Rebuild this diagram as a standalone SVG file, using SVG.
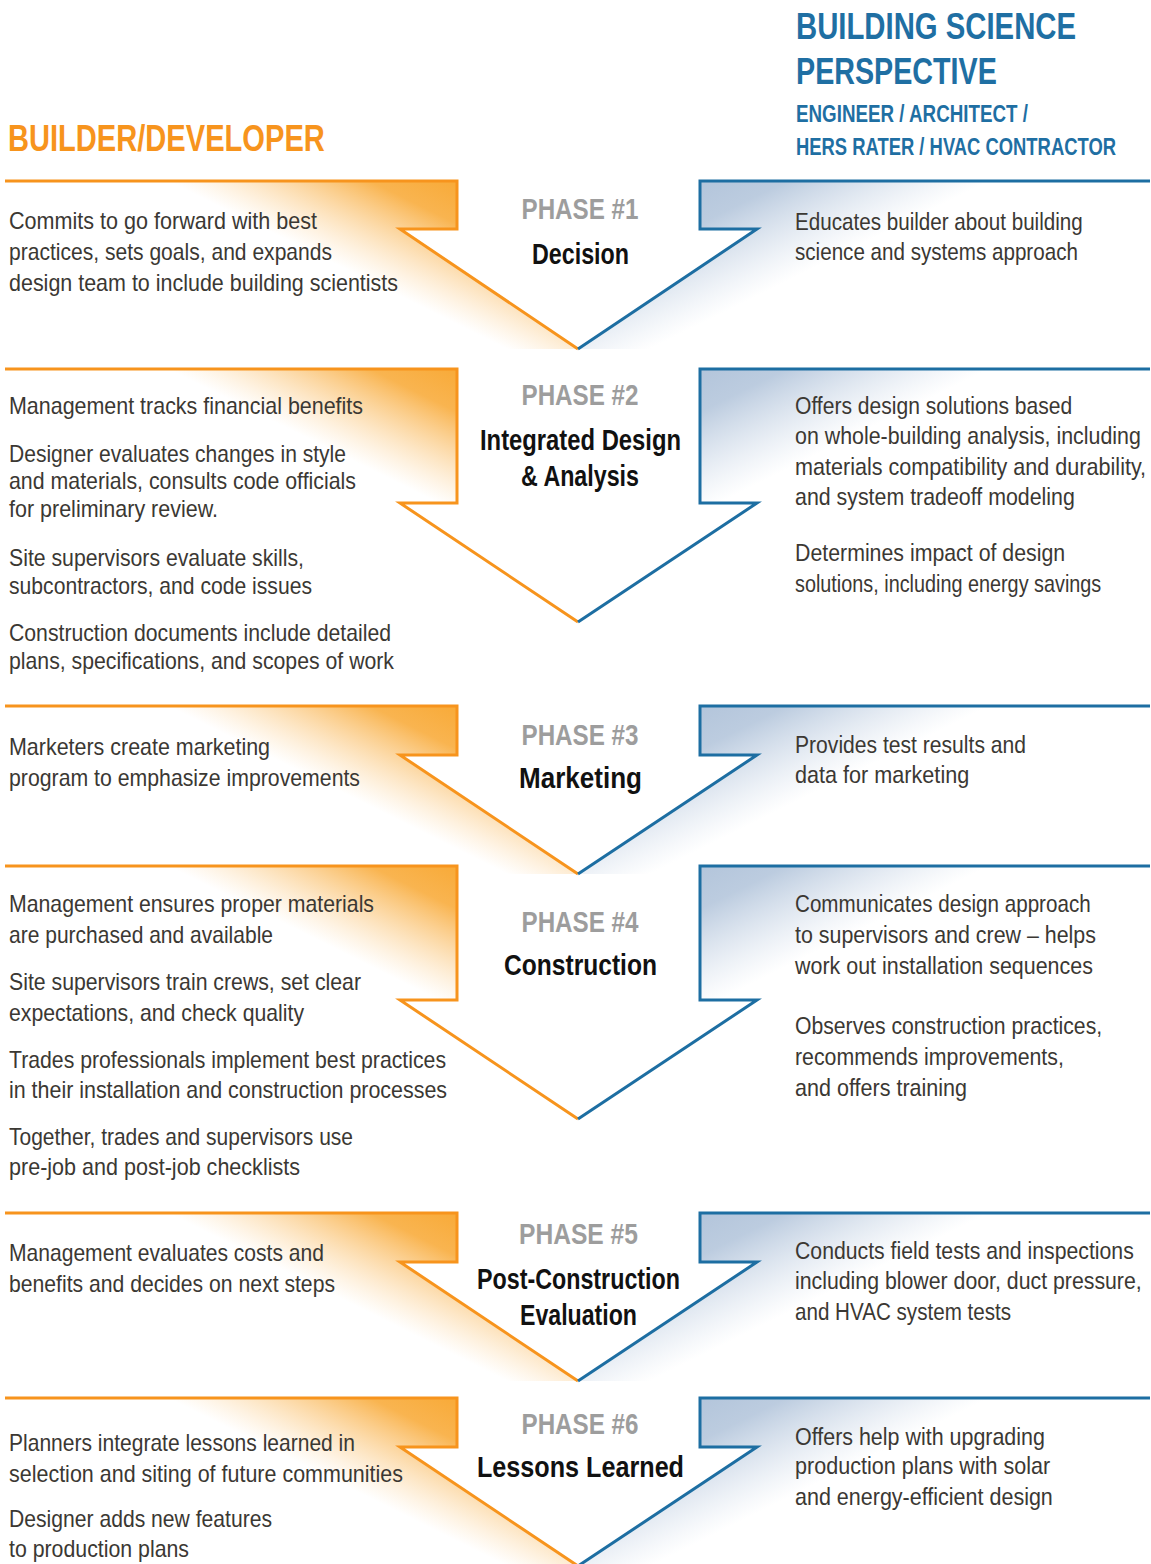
<svg xmlns="http://www.w3.org/2000/svg" width="1151" height="1564" viewBox="0 0 1151 1564">
<style>
text{font-family:"Liberation Sans",Arial,sans-serif}
.b{font-size:24px;fill:#3b3833}
.ph{font-size:30px;font-weight:bold;fill:#9d9d9d;text-anchor:middle}
.t{font-size:29px;font-weight:bold;fill:#111;text-anchor:middle}
.ho{font-size:37px;font-weight:bold;fill:#f7941d}
.hb{font-size:37px;font-weight:bold;fill:#1f6fa3}
.hs{font-size:23px;font-weight:bold;fill:#1f6fa3}
.ol{fill:none;stroke:#f7941d;stroke-width:3}
.bl{fill:none;stroke:#1d6ea2;stroke-width:3}
.of{fill:url(#go)}
.bf{fill:url(#gb)}
</style>
<defs>
<linearGradient id="go" gradientUnits="userSpaceOnUse" x1="457" y1="0" x2="400" y2="115">
<stop offset="0" stop-color="#f8aa38" stop-opacity="1"/>
<stop offset="0.3" stop-color="#f8aa38" stop-opacity="0.88"/>
<stop offset="1" stop-color="#fbc880" stop-opacity="0"/>
</linearGradient>
<linearGradient id="gb" gradientUnits="userSpaceOnUse" x1="700" y1="0" x2="757" y2="115">
<stop offset="0" stop-color="#b3c5db" stop-opacity="1"/>
<stop offset="0.3" stop-color="#b3c5db" stop-opacity="0.88"/>
<stop offset="1" stop-color="#c8d5e6" stop-opacity="0"/>
</linearGradient>
</defs>

<g id="headers">
<g transform="translate(8,0) scale(0.8,1)">
<text class="ho" x="0" y="151" textLength="396" lengthAdjust="spacingAndGlyphs">BUILDER/DEVELOPER</text>
</g>
<g transform="translate(796,0) scale(0.8,1)">
<text class="hb" x="0" y="39" textLength="350" lengthAdjust="spacingAndGlyphs">BUILDING SCIENCE</text>
<text class="hb" x="0" y="84" textLength="251" lengthAdjust="spacingAndGlyphs">PERSPECTIVE</text>
<text class="hs" x="0" y="122" textLength="290" lengthAdjust="spacingAndGlyphs">ENGINEER / ARCHITECT /</text>
<text class="hs" x="0" y="155" textLength="400" lengthAdjust="spacingAndGlyphs">HERS RATER / HVAC CONTRACTOR</text>
</g>
</g>

<g id="phase1">
<g transform="translate(0,181)">
<path class="of" d="M5,0 H457 V48 H400 L578,168 H5 Z"/>
<path class="bf" d="M1150,0 H700 V48 H757 L578,168 H1150 Z"/>
<path class="ol" d="M5,0 H457 V48 H400 L578,168"/>
<path class="bl" d="M578,168 L757,48 H700 V0 H1150"/>
</g>
<text class="ph" x="580" y="219" textLength="117" lengthAdjust="spacingAndGlyphs">PHASE #1</text>
<text class="t" x="580.5" y="264" textLength="97" lengthAdjust="spacingAndGlyphs">Decision</text>
<text class="b" x="9" y="229" textLength="308" lengthAdjust="spacingAndGlyphs">Commits to go forward with best</text>
<text class="b" x="9" y="260" textLength="323" lengthAdjust="spacingAndGlyphs">practices, sets goals, and expands</text>
<text class="b" x="9" y="291" textLength="389" lengthAdjust="spacingAndGlyphs">design team to include building scientists</text>
<g transform="translate(795,0) scale(0.88,1)">
<text class="b" x="0" y="230" textLength="327" lengthAdjust="spacingAndGlyphs">Educates builder about building</text>
<text class="b" x="0" y="260" textLength="321.5" lengthAdjust="spacingAndGlyphs">science and systems approach</text>
</g>
</g>

<g id="phase2">
<g transform="translate(0,369)">
<path class="of" d="M5,0 H457 V134 H400 L578,253 H5 Z"/>
<path class="bf" d="M1150,0 H700 V134 H757 L578,253 H1150 Z"/>
<path class="ol" d="M5,0 H457 V134 H400 L578,253"/>
<path class="bl" d="M578,253 L757,134 H700 V0 H1150"/>
</g>
<text class="ph" x="580" y="405" textLength="117" lengthAdjust="spacingAndGlyphs">PHASE #2</text>
<text class="t" x="580.5" y="450" textLength="201" lengthAdjust="spacingAndGlyphs">Integrated Design</text>
<text class="t" x="580" y="486" textLength="118" lengthAdjust="spacingAndGlyphs">&amp; Analysis</text>
<text class="b" x="9" y="414" textLength="354" lengthAdjust="spacingAndGlyphs">Management tracks financial benefits</text>
<text class="b" x="9" y="462" textLength="337" lengthAdjust="spacingAndGlyphs">Designer evaluates changes in style</text>
<text class="b" x="9" y="489" textLength="347" lengthAdjust="spacingAndGlyphs">and materials, consults code officials</text>
<text class="b" x="9" y="517" textLength="209" lengthAdjust="spacingAndGlyphs">for preliminary review.</text>
<text class="b" x="9" y="566" textLength="295" lengthAdjust="spacingAndGlyphs">Site supervisors evaluate skills,</text>
<text class="b" x="9" y="594" textLength="303" lengthAdjust="spacingAndGlyphs">subcontractors, and code issues</text>
<text class="b" x="9" y="641" textLength="382" lengthAdjust="spacingAndGlyphs">Construction documents include detailed</text>
<text class="b" x="9" y="669" textLength="385" lengthAdjust="spacingAndGlyphs">plans, specifications, and scopes of work</text>
<g transform="translate(795,0) scale(0.88,1)">
<text class="b" x="0" y="414" textLength="315" lengthAdjust="spacingAndGlyphs">Offers design solutions based</text>
<text class="b" x="0" y="444" textLength="393" lengthAdjust="spacingAndGlyphs">on whole-building analysis, including</text>
<text class="b" x="0" y="475" textLength="399" lengthAdjust="spacingAndGlyphs">materials compatibility and durability,</text>
<text class="b" x="0" y="505" textLength="318" lengthAdjust="spacingAndGlyphs">and system tradeoff modeling</text>
<text class="b" x="0" y="561" textLength="307" lengthAdjust="spacingAndGlyphs">Determines impact of design</text>
<text class="b" x="0" y="592" textLength="348" lengthAdjust="spacingAndGlyphs">solutions, including energy savings</text>
</g>
</g>

<g id="phase3">
<g transform="translate(0,706)">
<path class="of" d="M5,0 H457 V49 H400 L578,168 H5 Z"/>
<path class="bf" d="M1150,0 H700 V49 H757 L578,168 H1150 Z"/>
<path class="ol" d="M5,0 H457 V49 H400 L578,168"/>
<path class="bl" d="M578,168 L757,49 H700 V0 H1150"/>
</g>
<text class="ph" x="580" y="745" textLength="117" lengthAdjust="spacingAndGlyphs">PHASE #3</text>
<text class="t" x="580.5" y="788" textLength="123" lengthAdjust="spacingAndGlyphs">Marketing</text>
<text class="b" x="9" y="755" textLength="261" lengthAdjust="spacingAndGlyphs">Marketers create marketing</text>
<text class="b" x="9" y="786" textLength="351" lengthAdjust="spacingAndGlyphs">program to emphasize improvements</text>
<g transform="translate(795,0) scale(0.88,1)">
<text class="b" x="0" y="753" textLength="262.5" lengthAdjust="spacingAndGlyphs">Provides test results and</text>
<text class="b" x="0" y="783" textLength="198" lengthAdjust="spacingAndGlyphs">data for marketing</text>
</g>
</g>

<g id="phase4">
<g transform="translate(0,866)">
<path class="of" d="M5,0 H457 V134 H400 L578,253 H5 Z"/>
<path class="bf" d="M1150,0 H700 V134 H757 L578,253 H1150 Z"/>
<path class="ol" d="M5,0 H457 V134 H400 L578,253"/>
<path class="bl" d="M578,253 L757,134 H700 V0 H1150"/>
</g>
<text class="ph" x="580" y="932" textLength="117" lengthAdjust="spacingAndGlyphs">PHASE #4</text>
<text class="t" x="580.5" y="975" textLength="153" lengthAdjust="spacingAndGlyphs">Construction</text>
<text class="b" x="9" y="912" textLength="365" lengthAdjust="spacingAndGlyphs">Management ensures proper materials</text>
<text class="b" x="9" y="943" textLength="264" lengthAdjust="spacingAndGlyphs">are purchased and available</text>
<text class="b" x="9" y="990" textLength="352" lengthAdjust="spacingAndGlyphs">Site supervisors train crews, set clear</text>
<text class="b" x="9" y="1021" textLength="295" lengthAdjust="spacingAndGlyphs">expectations, and check quality</text>
<text class="b" x="9" y="1068" textLength="437" lengthAdjust="spacingAndGlyphs">Trades professionals implement best practices</text>
<text class="b" x="9" y="1098" textLength="438" lengthAdjust="spacingAndGlyphs">in their installation and construction processes</text>
<text class="b" x="9" y="1145" textLength="344" lengthAdjust="spacingAndGlyphs">Together, trades and supervisors use</text>
<text class="b" x="9" y="1175" textLength="291" lengthAdjust="spacingAndGlyphs">pre-job and post-job checklists</text>
<g transform="translate(795,0) scale(0.88,1)">
<text class="b" x="0" y="912" textLength="336" lengthAdjust="spacingAndGlyphs">Communicates design approach</text>
<text class="b" x="0" y="943" textLength="342" lengthAdjust="spacingAndGlyphs">to supervisors and crew – helps</text>
<text class="b" x="0" y="974" textLength="338.5" lengthAdjust="spacingAndGlyphs">work out installation sequences</text>
<text class="b" x="0" y="1034" textLength="349" lengthAdjust="spacingAndGlyphs">Observes construction practices,</text>
<text class="b" x="0" y="1065" textLength="305.5" lengthAdjust="spacingAndGlyphs">recommends improvements,</text>
<text class="b" x="0" y="1096" textLength="195.5" lengthAdjust="spacingAndGlyphs">and offers training</text>
</g>
</g>

<g id="phase5">
<g transform="translate(0,1213)">
<path class="of" d="M5,0 H457 V49 H400 L578,168 H5 Z"/>
<path class="bf" d="M1150,0 H700 V49 H757 L578,168 H1150 Z"/>
<path class="ol" d="M5,0 H457 V49 H400 L578,168"/>
<path class="bl" d="M578,168 L757,49 H700 V0 H1150"/>
</g>
<text class="ph" x="578.5" y="1244" textLength="119" lengthAdjust="spacingAndGlyphs">PHASE #5</text>
<text class="t" x="578.5" y="1289" textLength="203" lengthAdjust="spacingAndGlyphs">Post-Construction</text>
<text class="t" x="578.5" y="1325" textLength="117" lengthAdjust="spacingAndGlyphs">Evaluation</text>
<text class="b" x="9" y="1261" textLength="315" lengthAdjust="spacingAndGlyphs">Management evaluates costs and</text>
<text class="b" x="9" y="1292" textLength="326" lengthAdjust="spacingAndGlyphs">benefits and decides on next steps</text>
<g transform="translate(795,0) scale(0.88,1)">
<text class="b" x="0" y="1259" textLength="385" lengthAdjust="spacingAndGlyphs">Conducts field tests and inspections</text>
<text class="b" x="0" y="1289" textLength="394" lengthAdjust="spacingAndGlyphs">including blower door, duct pressure,</text>
<text class="b" x="0" y="1320" textLength="245.5" lengthAdjust="spacingAndGlyphs">and HVAC system tests</text>
</g>
</g>

<g id="phase6">
<g transform="translate(0,1398)">
<path class="of" d="M5,0 H457 V49 H400 L578,168 H5 Z"/>
<path class="bf" d="M1150,0 H700 V49 H757 L578,168 H1150 Z"/>
<path class="ol" d="M5,0 H457 V49 H400 L578,168"/>
<path class="bl" d="M578,168 L757,49 H700 V0 H1150"/>
</g>
<text class="ph" x="580" y="1434" textLength="117" lengthAdjust="spacingAndGlyphs">PHASE #6</text>
<text class="t" x="580.5" y="1477" textLength="207" lengthAdjust="spacingAndGlyphs">Lessons Learned</text>
<text class="b" x="9" y="1451" textLength="346" lengthAdjust="spacingAndGlyphs">Planners integrate lessons learned in</text>
<text class="b" x="9" y="1482" textLength="394" lengthAdjust="spacingAndGlyphs">selection and siting of future communities</text>
<text class="b" x="9" y="1527" textLength="263" lengthAdjust="spacingAndGlyphs">Designer adds new features</text>
<text class="b" x="9" y="1557" textLength="180" lengthAdjust="spacingAndGlyphs">to production plans</text>
<g transform="translate(795,0) scale(0.88,1)">
<text class="b" x="0" y="1445" textLength="284" lengthAdjust="spacingAndGlyphs">Offers help with upgrading</text>
<text class="b" x="0" y="1474" textLength="290" lengthAdjust="spacingAndGlyphs">production plans with solar</text>
<text class="b" x="0" y="1505" textLength="293" lengthAdjust="spacingAndGlyphs">and energy-efficient design</text>
</g>
</g>
</svg>
